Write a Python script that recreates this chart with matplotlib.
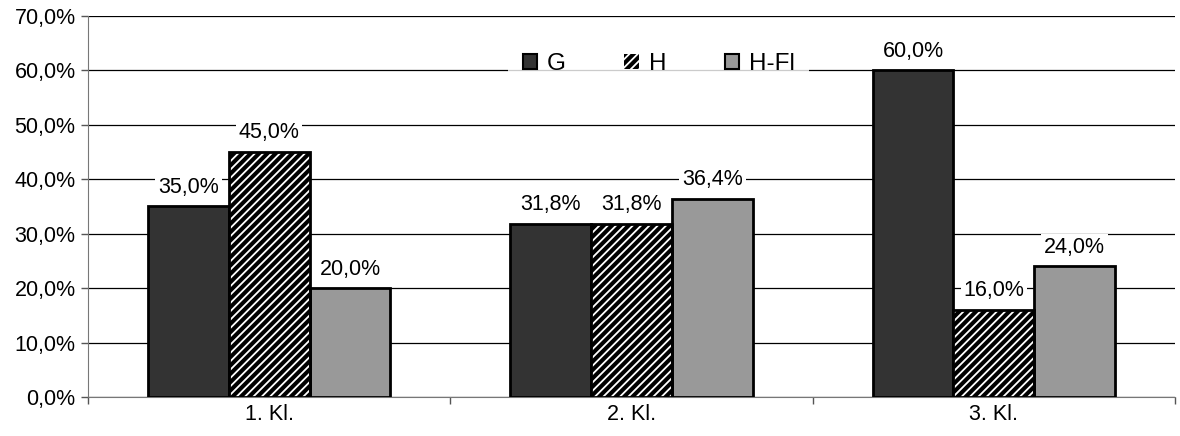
import matplotlib
matplotlib.use("Agg")
import matplotlib.pyplot as plt
import numpy as np
from matplotlib.patches import Patch
from matplotlib.ticker import FuncFormatter, FixedLocator

categories = ["1. Kl.", "2. Kl.", "3. Kl."]
series_names = ["G", "H", "H-Fl"]
g_values = [35.0, 31.8, 60.0]
h_values = [45.0, 31.8, 16.0]
hfl_values = [20.0, 36.4, 24.0]

plt.rcParams["font.family"] = ["Liberation Sans", "DejaVu Sans"]
plt.rcParams["hatch.linewidth"] = 1.3

fig = plt.figure(figsize=(11.8, 4.36), dpi=100)
ax = fig.add_axes([0.0746, 0.0894, 0.9212, 0.874])

x = np.arange(len(categories))
w = 0.223
offsets = [-w, 0, w]
colors = ["#333333", "#000000", "#999999"]
FS = 15.5

def pct(v):
    return f"{v:.1f}".replace(".", ",") + "%"

all_series = [g_values, h_values, hfl_values]
for i, (vals, col) in enumerate(zip(all_series, colors)):
    pos = x + offsets[i]
    if series_names[i] == "H":
        ax.bar(pos, vals, w, color="black", edgecolor="white", hatch="////",
               linewidth=0, zorder=3)
        ax.bar(pos, vals, w, fill=False, edgecolor="black", linewidth=2, zorder=4)
    else:
        ax.bar(pos, vals, w, color=col, edgecolor="black", linewidth=2, zorder=3)
    for p, v in zip(pos, vals):
        ax.text(p, v + 3.5, pct(v), ha="center", va="center", fontsize=FS,
                zorder=5, bbox=dict(facecolor="white", edgecolor="none", pad=2))

ax.set_xlim(-0.5, 2.5)
ax.set_ylim(0, 70)
ax.yaxis.set_major_locator(FixedLocator(np.arange(0, 71, 10)))
ax.yaxis.set_major_formatter(FuncFormatter(lambda v, _: pct(v)))
ax.set_xticks(x)
ax.set_xticklabels(categories)
ax.set_xticks([-0.5, 0.5, 1.5, 2.5], minor=True)
ax.tick_params(axis="x", which="major", length=0, labelsize=FS, pad=5)
ax.tick_params(axis="x", which="minor", length=5, width=1, color="#555555")
ax.tick_params(axis="y", length=5, width=1, labelsize=FS, color="#555555", pad=4)
ax.grid(axis="y", color="black", linewidth=0.9, zorder=0)
ax.set_axisbelow(True)
for s in ["top", "right"]:
    ax.spines[s].set_visible(False)
ax.spines["left"].set_color("#777777")
ax.spines["bottom"].set_color("#777777")

handles = [
    Patch(facecolor=colors[0], edgecolor="black", linewidth=1.5),
    Patch(facecolor="black", edgecolor="white", hatch="////", linewidth=0),
    Patch(facecolor=colors[2], edgecolor="black", linewidth=1.5),
]
leg = ax.legend(handles, series_names, loc="center", bbox_to_anchor=(0.525, 0.874),
                ncol=3, frameon=True, fontsize=17.5, handlelength=0.6,
                handleheight=0.6, handletextpad=0.4, columnspacing=2.4,
                borderpad=0.6, fancybox=False)
leg.get_frame().set_facecolor("white")
leg.get_frame().set_edgecolor("none")
leg.set_zorder(6)

fig.savefig("out.png", dpi=100)
